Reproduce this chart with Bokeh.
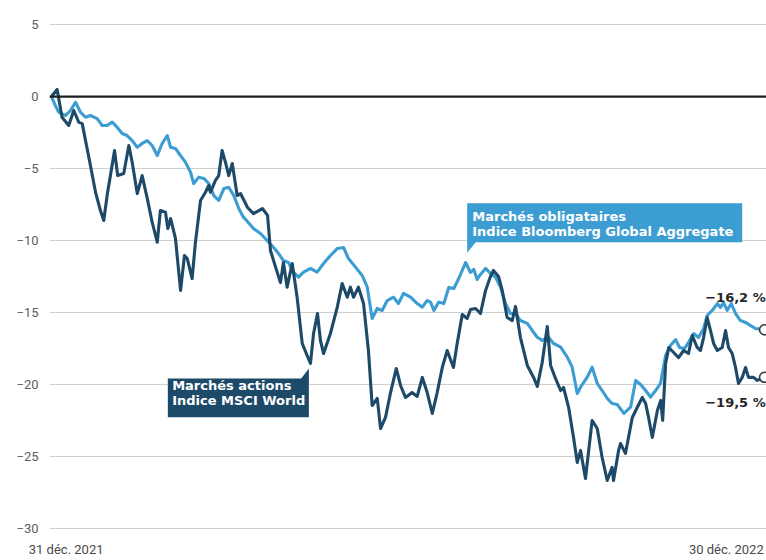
from bokeh.plotting import figure
from bokeh.models import Range1d, Label, FixedTicker, Span, BoxAnnotation, PolyAnnotation
from bokeh.embed import file_html
from bokeh.resources import INLINE

# ---- data (days since 31 Dec 2021, performance in %) ----
equity_day = [0, 2.9, 5.4, 8.8, 11.4, 13.9, 15.7, 17.4, 19.9, 22.5, 25.0, 26.7, 28.4, 30.1, 32.2,
              33.8, 36.9, 39.5, 41.2, 43.8, 46.3, 48.9, 51.4, 54.0, 55.6, 58.2, 59.4, 60.8, 63.3,
              65.9, 67.9, 69.3, 71.8, 73.5, 76.1, 78.6, 80.3, 81.2, 83.7, 85.4, 87.1, 88.8, 90.5,
              92.3, 94.8, 96.5, 100.1, 103.1, 107.7, 110.3, 111.8, 114.4, 116.9, 118.4, 120.3,
              122.9, 125.4, 128.0, 130.5, 132.2, 133.8, 135.8, 137.3, 138.9, 142.4, 145.9, 148.4,
              151.0, 152.6, 154.2, 156.7, 159.3, 161.8, 163.7, 166.3, 168.0, 170.5, 173.1, 176.0,
              178.2, 180.7, 184.1, 186.7, 189.3, 191.8, 194.4, 196.9, 199.5, 202.0, 205.2, 207.1,
              209.7, 212.2, 213.9, 216.5, 219.0, 221.6, 224.1, 225.6, 228.2, 230.1, 232.6, 235.2,
              236.9, 239.4, 242.9, 246.1, 248.0, 250.5, 253.1, 254.8, 257.3, 259.9, 261.4, 264.0,
              266.5, 268.4, 270.1, 272.6, 276.0, 278.6, 281.1, 283.7, 286.2, 286.9, 289.5, 290.5,
              293.0, 296.5, 299.0, 301.6, 303.3, 304.8, 306.7, 309.3, 311.0, 312.0, 313.5, 315.1,
              317.6, 320.1, 322.7, 325.2, 327.1, 329.6, 331.3, 332.9, 334.7, 336.4, 338.0, 339.9,
              342.4, 344.1, 345.6, 347.5, 349.2, 350.7, 352.6, 354.3, 355.8, 358.4, 360.3, 364]
equity_pct = [0, 0.49, -1.44, -2.01, -0.97, -1.78, -1.88, -3.06, -4.79, -6.65, -7.92, -8.61, -6.88,
              -5.49, -3.75, -5.49, -5.35, -3.40, -4.56, -6.74, -5.49, -7.08, -8.73, -10.12, -7.92,
              -8.03, -9.17, -8.47, -9.86, -13.47, -11.04, -11.25, -12.64, -10.12, -7.22, -6.65,
              -6.18, -6.65, -5.83, -5.49, -3.75, -4.56, -5.49, -4.65, -6.88, -6.74, -7.71, -8.13,
              -7.78, -8.26, -10.69, -11.85, -12.92, -11.53, -13.24, -11.60, -13.94, -17.15, -17.99,
              -18.54, -16.46, -15.07, -16.94, -17.85, -16.46, -14.63, -12.99, -13.94, -13.24,
              -13.94, -13.24, -14.38, -17.64, -21.46, -20.97, -23.06, -22.29, -20.56, -18.89,
              -20.07, -20.90, -20.56, -20.83, -19.51, -20.56, -22.01, -20.56, -18.82, -17.64,
              -18.82, -17.15, -15.14, -15.42, -14.79, -14.72, -15.07, -13.47, -12.50, -12.08,
              -12.50, -13.47, -15.35, -15.56, -14.58, -16.74, -18.68, -19.51, -20.14, -18.47,
              -15.97, -18.68, -19.58, -20.42, -20.21, -21.60, -23.68, -25.42, -24.58, -26.53,
              -22.50, -23.06, -25.07, -26.67, -25.76, -26.67, -24.58, -24.10, -24.79, -22.29,
              -21.60, -20.90, -21.32, -22.29, -23.68, -21.81, -21.11, -22.50, -18.54, -17.43,
              -17.78, -18.13, -17.64, -17.85, -16.60, -17.43, -17.64, -16.74, -15.35, -16.25,
              -17.15, -17.64, -17.43, -16.25, -17.43, -17.85, -18.82, -19.93, -19.51, -18.82,
              -19.51, -19.51, -19.72, -19.5]

bond_day = [0, 2.0, 3.7, 7.1, 9.7, 12.3, 14.8, 17.4, 19.9, 23.3, 25.9, 28.4, 31.0, 33.5, 36.1, 38.6,
            41.2, 43.8, 46.3, 48.9, 51.4, 54.0, 56.5, 59.1, 60.8, 63.3, 65.9, 68.4, 71.0, 72.6, 75.2,
            77.8, 80.3, 82.9, 85.4, 88.0, 90.5, 93.1, 95.6, 98.0, 99.6, 103.1, 106.7, 110.1, 113.3,
            115.9, 118.4, 121.0, 123.5, 126.1, 128.7, 132.2, 135.6, 138.9, 142.4, 145.9, 149.1,
            151.6, 155.2, 158.6, 161.2, 163.7, 166.3, 168.8, 171.4, 174.6, 177.1, 179.7, 183.3,
            186.7, 189.3, 191.8, 193.5, 195.2, 197.7, 200.3, 202.8, 205.4, 207.9, 211.4, 213.9,
            215.6, 217.3, 219.0, 221.6, 224.1, 226.7, 229.2, 231.8, 234.3, 236.9, 239.4, 242.9,
            245.4, 248.0, 250.5, 253.7, 256.3, 259.9, 263.3, 265.8, 268.4, 270.1, 273.5, 276.0,
            278.6, 281.1, 283.7, 286.2, 288.8, 292.2, 295.6, 298.2, 300.7, 303.3, 305.8, 308.4,
            310.9, 313.5, 316.0, 318.6, 320.6, 323.2, 325.2, 327.8, 330.3, 332.9, 334.7, 337.3,
            339.9, 341.5, 343.1, 344.9, 347.0, 349.2, 351.7, 354.3, 356.8, 359.4, 364]
bond_pct = [0, -0.63, -1.09, -1.32, -0.97, -0.40, -1.09, -1.44, -1.32, -1.53, -2.01, -2.01, -1.78,
            -2.13, -2.57, -2.71, -3.06, -3.52, -3.26, -3.06, -3.40, -4.10, -3.26, -2.71, -3.52,
            -3.61, -4.10, -4.56, -5.26, -6.04, -5.60, -5.69, -6.04, -6.88, -7.22, -6.39, -6.30,
            -6.88, -7.78, -8.38, -8.61, -9.17, -9.51, -10.00, -10.47, -10.90, -11.39, -11.53,
            -12.20, -12.55, -12.20, -11.94, -12.20, -11.60, -11.04, -10.56, -10.49, -11.25,
            -11.85, -12.43, -13.24, -15.42, -14.72, -14.86, -14.17, -13.94, -14.38, -13.68,
            -13.94, -14.38, -14.63, -14.17, -14.28, -14.86, -14.28, -14.38, -13.26, -13.33,
            -12.64, -11.53, -12.22, -12.01, -12.71, -12.36, -11.94, -12.29, -12.55, -13.24,
            -14.38, -15.07, -15.07, -15.56, -15.76, -16.25, -16.72, -16.94, -16.72, -17.15,
            -17.41, -18.10, -18.80, -20.63, -20.19, -19.49, -18.80, -19.93, -20.42, -20.97,
            -21.32, -21.39, -22.01, -21.58, -19.72, -20.00, -20.42, -20.88, -20.42, -19.93,
            -17.99, -17.29, -16.88, -17.43, -17.50, -17.08, -16.46, -16.74, -16.11, -15.21,
            -14.86, -14.38, -14.65, -14.31, -14.86, -14.38, -15.07, -15.56, -15.69, -15.90,
            -16.11, -16.2]

y_ticks = [5, 0, -5, -10, -15, -20, -25, -30]
x_tick_days = [7.5, 344.5]
x_tick_labels = ["31 déc. 2021", "30 déc. 2022"]
equity_label = ["Marchés actions", "Indice MSCI World"]
bond_label = ["Marchés obligataires", "Indice Bloomberg Global Aggregate"]
end_labels = ["\u221216,2 %", "\u221219,5 %"]

DARK = "#1d4a69"
LIGHT = "#3c9dd2"
W, H = 766, 560
BOX_FONT = "DejaVu Sans"

p = figure(width=W, height=H, output_backend="svg", toolbar_location=None,
           x_range=Range1d(-1.0, 365.0), y_range=Range1d(-30.49, 6.67),
           min_border_left=49, min_border_right=0, min_border_top=0, min_border_bottom=25,
           background_fill_color="white", border_fill_color="white")
p.outline_line_color = None
p.xgrid.visible = False
p.ygrid.grid_line_color = "#cfcfcf"
p.ygrid.grid_line_width = 1

p.yaxis.ticker = FixedTicker(ticks=y_ticks)
p.yaxis.major_label_overrides = {t: (str(t).replace("-", "\u2212")) for t in y_ticks}
p.yaxis.axis_line_color = None
p.yaxis.major_tick_line_color = None
p.yaxis.minor_tick_line_color = None
p.yaxis.major_tick_in = 0
p.yaxis.major_tick_out = 0
p.yaxis.major_label_standoff = 11
p.yaxis.major_label_text_font = "Roboto"
p.yaxis.major_label_text_font_size = "13px"
p.yaxis.major_label_text_color = "#5e5e5e"

p.xaxis.ticker = FixedTicker(ticks=x_tick_days)
p.xaxis.major_label_overrides = {d: l for d, l in zip(x_tick_days, x_tick_labels)}
p.xaxis.axis_line_color = None
p.xaxis.major_tick_line_color = None
p.xaxis.minor_tick_line_color = None
p.xaxis.major_tick_in = 0
p.xaxis.major_tick_out = 0
p.xaxis.major_label_standoff = 6
p.xaxis.major_label_text_font = "Roboto"
p.xaxis.major_label_text_font_size = "13px"
p.xaxis.major_label_text_color = "#4a4a4a"

p.add_layout(Span(location=0, dimension="width", line_color="#1e1e1e", line_width=2.2))

p.line(bond_day, bond_pct, line_color=LIGHT, line_width=3.1, line_join="round")
p.line(equity_day, equity_pct, line_color=DARK, line_width=3.1, line_join="round")

p.scatter([equity_day[-1], bond_day[-1]], [equity_pct[-1], bond_pct[-1]], size=10,
          fill_color="white", line_color="#2d3a44", line_width=1.6)

# callout boxes
p.add_layout(BoxAnnotation(left=212.2, right=352.6, top=-7.41, bottom=-10.12,
                           fill_color=LIGHT, fill_alpha=1, line_alpha=0))
p.add_layout(PolyAnnotation(xs=[212.2, 212.2, 217.0], ys=[-10.05, -10.85, -10.05],
                            fill_color=LIGHT, fill_alpha=1, line_alpha=0))
p.add_layout(BoxAnnotation(left=59.4, right=131.4, top=-19.58, bottom=-22.27,
                           fill_color=DARK, fill_alpha=1, line_alpha=0))
p.add_layout(PolyAnnotation(xs=[131.4, 131.4, 127.1], ys=[-19.65, -18.89, -19.65],
                            fill_color=DARK, fill_alpha=1, line_alpha=0))

for txt, yv in zip(bond_label, [-8.33, -9.38]):
    p.add_layout(Label(x=214.8, y=yv, text=txt, text_color="white", text_font=BOX_FONT,
                       text_font_style="bold", text_font_size="13px", text_baseline="middle"))
for txt, yv in zip(equity_label, [-20.07, -21.11]):
    p.add_layout(Label(x=61.6, y=yv, text=txt, text_color="white", text_font=BOX_FONT,
                       text_font_style="bold", text_font_size="13px", text_baseline="middle"))

for txt, yv in zip(end_labels, [-13.94, -21.23]):
    p.add_layout(Label(x=364.6, y=yv, text=txt, text_color="#262626", text_font=BOX_FONT,
                       text_font_style="bold", text_font_size="13px", text_baseline="middle",
                       text_align="right"))

open("out.html", "w").write(file_html(p, INLINE))
